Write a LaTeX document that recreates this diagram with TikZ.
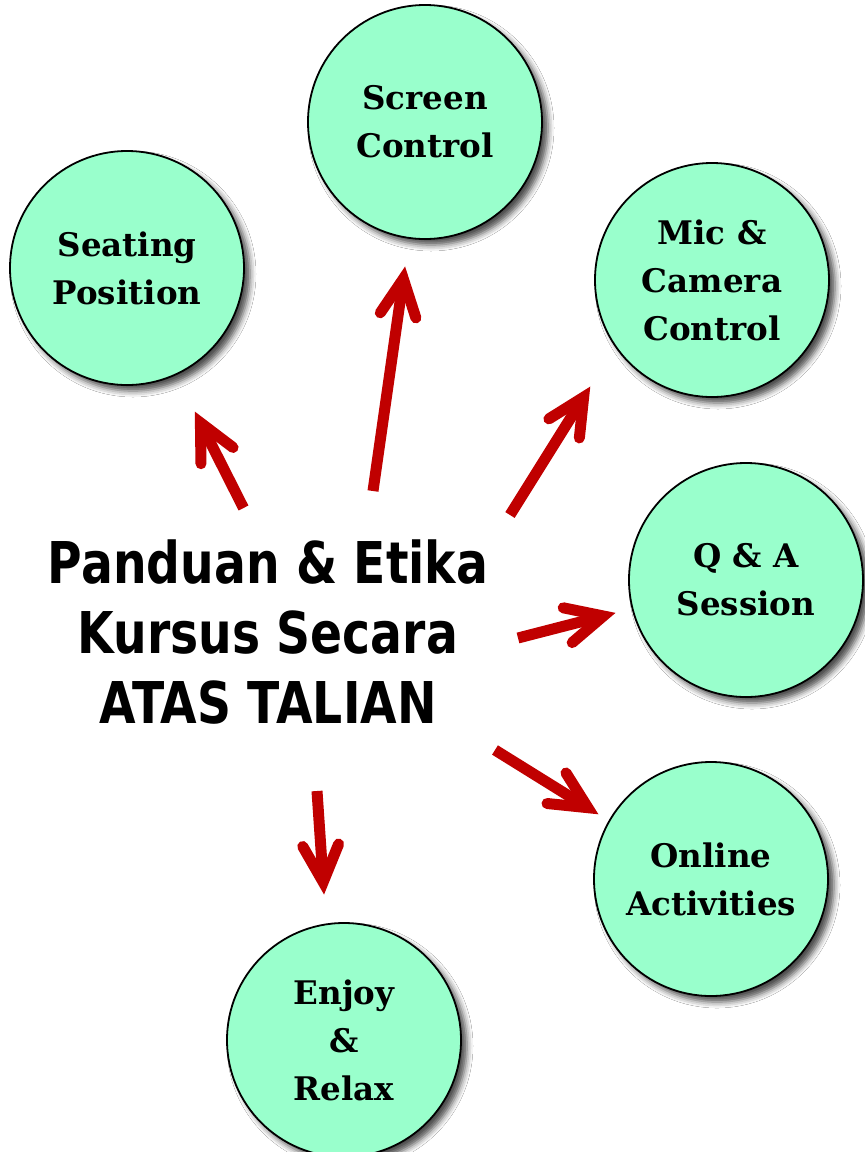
\documentclass[tikz,border=0pt]{standalone}
\usepackage{fontspec}
\usepackage{graphicx}
\usetikzlibrary{calc,shadows.blur}
\newfontfamily\circfont{DejaVu Serif}
\newfontfamily\titlefont{DejaVu Sans}
\definecolor{cfill}{HTML}{99FFCC}
\definecolor{ared}{HTML}{C00000}
\tikzset{
  circ/.style={circle, draw=black, line width=1.8pt, fill=cfill,
    minimum size=234pt, inner sep=0pt, align=center,
    blur shadow={shadow xshift=6pt, shadow yshift=-6pt, shadow blur radius=6pt, shadow opacity=70},
    font={\circfont\bfseries\fontsize{32.5}{48}\selectfont}},
  shaft/.style={draw=ared, line width=11pt, line cap=butt},
  head/.style={draw=ared, line width=11pt, line cap=round, line join=miter},
  title/.style={align=center, inner sep=0pt,
    font={\titlefont\bfseries\fontsize{57.6}{70}\selectfont}}
}
\newcommand{\sqz}[1]{\scalebox{0.82}[1]{#1}}
\begin{document}
\begin{tikzpicture}[x=1pt,y=-1pt]
\useasboundingbox (0,0) rectangle (865,1152);
\fill[white] (0,0) rectangle (865,1152);

\node[circ] (screen) at (425,122) {Screen\\Control};
\node[circ] (seat) at (127,268) {Seating\\Position};
\node[circ] (mic) at (712,280) {Mic \&\\Camera\\Control};
\node[circ] (qa) at (746,580) {Q \& A\\Session};
\node[circ] (online) at (711,879) {Online\\Activities};
\node[circ] (enjoy) at (344,1040) {Enjoy\\\&\\Relax};

\node[title] (main) at (268,632) {\sqz{Panduan \& Etika}\\\sqz{Kursus Secara}\\\sqz{ATAS TALIAN}};

\coordinate (a1) at (243.5,508); \coordinate (b1) at (195,412);
\coordinate (a2) at (373,491);   \coordinate (b2) at (405,267);
\coordinate (a3) at (510,515);   \coordinate (b3) at (590,387);
\coordinate (a4) at (518,638);   \coordinate (b4) at (615,613);
\coordinate (a5) at (495,750);   \coordinate (b5) at (598,814);
\coordinate (a6) at (317,791);   \coordinate (b6) at (324,894);

\foreach \i in {1,...,6}{
  \coordinate (v\i) at ($(b\i)!12pt!(a\i)$);
  \draw[shaft] (a\i) -- (v\i);
  \draw[head] ($(v\i)!41pt!26:(a\i)$) -- (v\i) -- ($(v\i)!41pt!-26:(a\i)$);
}
\end{tikzpicture}
\end{document}
